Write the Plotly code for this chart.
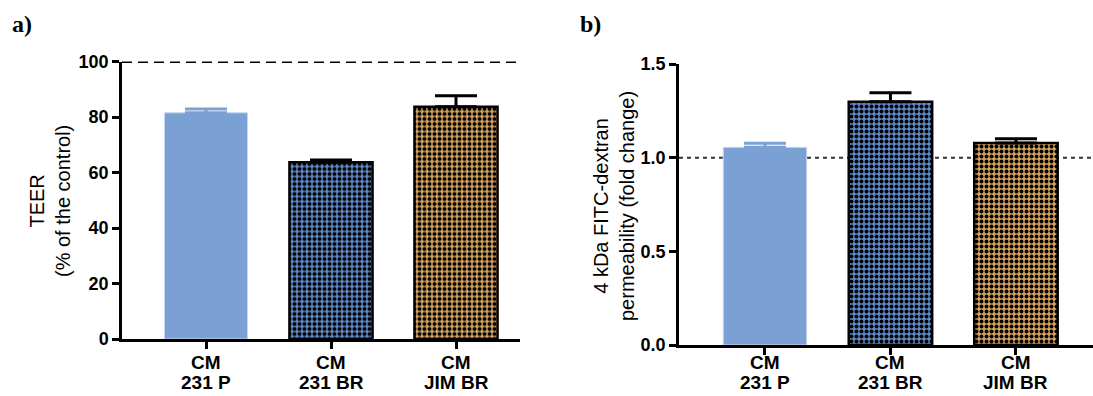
import plotly.graph_objects as go

# ---- data ----
categories = ["CM<br>231 P", "CM<br>231 BR", "CM<br>JIM BR"]
teer_mean = [81.5, 63.7, 83.7]
teer_err = [1.4, 0.8, 4.0]
perm_mean = [1.055, 1.299, 1.078]
perm_err = [0.022, 0.048, 0.023]
teer_ticks = [0, 20, 40, 60, 80, 100]
perm_ticks = [0.0, 0.5, 1.0, 1.5]
perm_ticklabels = ["0.0", "0.5", "1.0", "1.5"]
teer_ref = 100
perm_ref = 1.0

# ---- styles ----
W, H = 1093, 396
blue_solid = "#7BA0D4"
blue_chk = "#5F8BCB"
tan_chk = "#D8A45C"
FONT = "Liberation Sans"

fig = go.Figure()

def add_panel(vals, errs, xa, ya):
    xs = [0, 1, 2]
    fig.add_trace(go.Bar(
        x=[xs[0]], y=[vals[0]], width=0.665,
        marker=dict(color=blue_solid, line=dict(color="#C8D7EE", width=1)),
        error_y=dict(type="data", symmetric=False, array=[errs[0]], arrayminus=[0],
                     color=blue_solid, thickness=3, width=21),
        xaxis=xa, yaxis=ya, showlegend=False))
    for i, col in [(1, blue_chk), (2, tan_chk)]:
        fig.add_trace(go.Bar(
            x=[xs[i]], y=[vals[i]], width=0.665,
            marker=dict(color=col, line=dict(color="black", width=2.5),
                        pattern=dict(shape=".", size=5, solidity=0.5,
                                     fgcolor="black", bgcolor=col, fillmode="replace")),
            error_y=dict(type="data", symmetric=False, array=[errs[i]], arrayminus=[0],
                         color="black", thickness=3, width=21),
            xaxis=xa, yaxis=ya, showlegend=False))

add_panel(teer_mean, teer_err, "x", "y")
add_panel(perm_mean, perm_err, "x2", "y2")

axis_common = dict(showline=True, linecolor="black", linewidth=2.5, ticks="outside",
                   ticklen=7, tickwidth=2.5, tickcolor="black", showgrid=False,
                   zeroline=False, automargin=False,
                   tickfont=dict(family=FONT, size=18, color="black", weight="bold"))

fig.update_layout(
    width=W, height=H, margin=dict(l=0, r=0, t=0, b=0),
    paper_bgcolor="white", plot_bgcolor="white", barmode="overlay",
    xaxis=dict(domain=[122 / W, 520 / W], range=[-0.672, 2.512],
               tickvals=[0, 1, 2], ticktext=["", "", ""], anchor="y", **axis_common),
    yaxis=dict(domain=[1 - 339 / H, 1 - 61.5 / H], range=[0, 100],
               tickvals=teer_ticks, anchor="x", **axis_common),
    xaxis2=dict(domain=[679 / W, 1.0], range=[-0.685, 2.614],
                tickvals=[0, 1, 2], ticktext=["", "", ""], anchor="y2", **axis_common),
    yaxis2=dict(domain=[1 - 345 / H, 1 - 64 / H], range=[0, 1.5],
                tickvals=perm_ticks, ticktext=perm_ticklabels, anchor="x2", **axis_common),
)

# category labels (two tight lines each)
for xa in ["x", "x2"]:
    for i, cat in enumerate(categories):
        for j, line in enumerate(cat.split("<br>")):
            fig.add_annotation(text=line, xref=xa, yref="paper", x=i,
                               y=1 - (362 + 20 * j) / H, showarrow=False,
                               xanchor="center", yanchor="middle",
                               font=dict(family=FONT, size=19, color="black", weight="bold"))

# reference lines
fig.add_shape(type="line", xref="x domain", yref="y", x0=0, x1=1, y0=teer_ref, y1=teer_ref,
              line=dict(color="black", width=3, dash="10px,6px"), layer="above")
fig.add_shape(type="line", xref="x2 domain", yref="y2", x0=0, x1=1, y0=perm_ref, y1=perm_ref,
              line=dict(color="#333333", width=2, dash="4px,4px"), layer="below")

# axis titles
fig.add_annotation(text="TEER<br>(% of the control)", xref="paper", yref="paper",
                   x=50 / W, y=1 - 201 / H, textangle=-90, showarrow=False,
                   xanchor="center", yanchor="middle",
                   font=dict(family=FONT, size=20, color="black"))
fig.add_annotation(text="4 kDa FITC-dextran<br>permeability (fold change)", xref="paper", yref="paper",
                   x=614 / W, y=1 - 206 / H, textangle=-90, showarrow=False,
                   xanchor="center", yanchor="middle",
                   font=dict(family=FONT, size=20, color="black"))

# panel letters
for lbl, px in [("a)", 10), ("b)", 578)]:
    fig.add_annotation(text=lbl, xref="paper", yref="paper", x=px / W, y=1 - 24 / H,
                       showarrow=False, xanchor="left", yanchor="middle",
                       font=dict(family="Liberation Serif", size=24, color="black", weight="bold"))

fig.write_html("out.html")
